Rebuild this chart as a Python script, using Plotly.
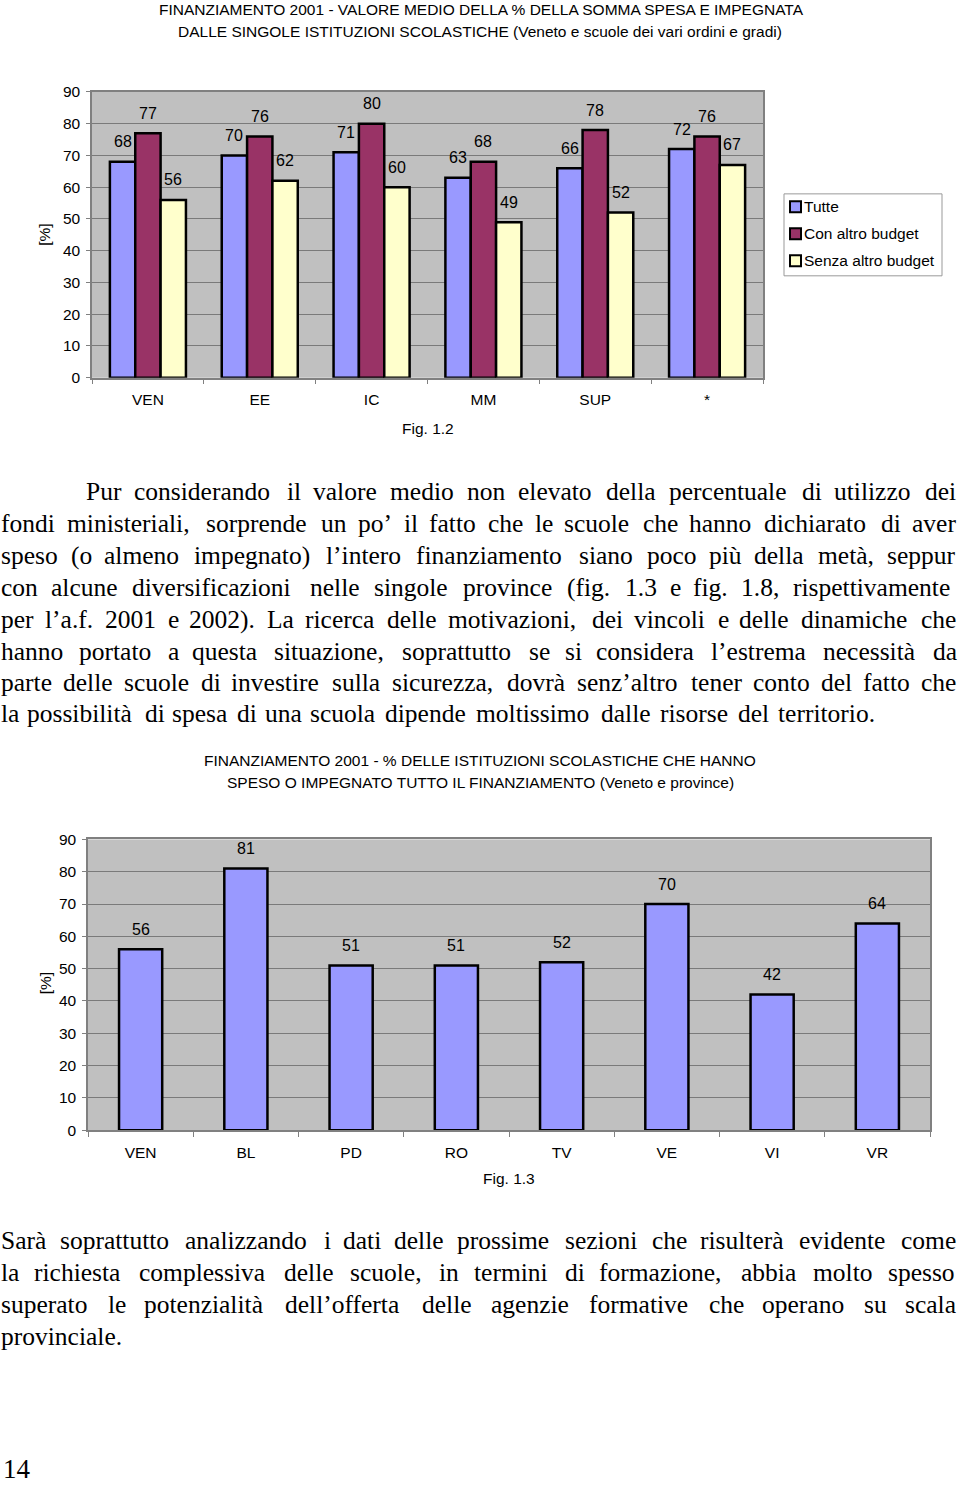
import plotly.graph_objects as go

W, H = 960, 1485

# ---------------- data ----------------
cats1 = ["VEN", "EE", "IC", "MM", "SUP", "*"]
tutte = [68, 70, 71, 63, 66, 72]
con_altro = [77, 76, 80, 68, 78, 76]
senza_altro = [56, 62, 60, 49, 52, 67]
series_names = ["Tutte", "Con altro budget", "Senza altro budget"]
series_colors = ["#9999ff", "#993366", "#ffffcc"]

cats2 = ["VEN", "BL", "PD", "RO", "TV", "VE", "VI", "VR"]
vals2 = [56, 81, 51, 51, 52, 70, 42, 64]

title1 = ["FINANZIAMENTO 2001 - VALORE MEDIO DELLA % DELLA SOMMA SPESA E IMPEGNATA",
          "DALLE SINGOLE ISTITUZIONI SCOLASTICHE (Veneto e scuole dei vari ordini e gradi)"]
title2 = ["FINANZIAMENTO 2001 - % DELLE ISTITUZIONI SCOLASTICHE CHE HANNO",
          "SPESO O IMPEGNATO TUTTO IL FINANZIAMENTO (Veneto e province)"]

para1 = [
    "Pur considerando il valore medio non elevato della percentuale di utilizzo dei",
    "fondi ministeriali, sorprende un po’ il fatto che le scuole che hanno dichiarato di aver",
    "speso (o almeno impegnato) l’intero finanziamento siano poco più della metà, seppur",
    "con alcune diversificazioni nelle singole province (fig. 1.3 e fig. 1.8, rispettivamente",
    "per l’a.f. 2001 e 2002).  La ricerca delle motivazioni, dei vincoli e delle dinamiche che",
    "hanno portato a questa situazione, soprattutto se si considera l’estrema necessità da",
    "parte delle scuole di investire sulla sicurezza, dovrà senz’altro tener conto del fatto che",
    "la possibilità di spesa di una scuola dipende moltissimo dalle risorse del territorio.",
]
para2 = [
    "Sarà soprattutto analizzando i dati delle prossime sezioni che risulterà evidente come",
    "la richiesta complessiva delle scuole, in termini di formazione, abbia molto spesso",
    "superato le potenzialità dell’offerta delle agenzie formative che operano su scala",
    "provinciale.",
]

SANS = "Liberation Sans, Arial, sans-serif"
SERIF = "Liberation Serif, Times New Roman, serif"
SF = 15.5  # sans font size

# rendered page maps paper height onto 1469 px starting 8 px down
def py(px):
    return 1 - (px - 8) / 1469

def pxx(px):
    return px / W

fig = go.Figure()

# ---------------- chart 1 ----------------
for name, vals, col in zip(series_names, [tutte, con_altro, senza_altro], series_colors):
    fig.add_trace(go.Bar(
        x=cats1, y=vals, name=name, xaxis="x", yaxis="y", showlegend=False,
        marker=dict(color=col, line=dict(color="black", width=2.5)),
    ))

# ---------------- chart 2 ----------------
fig.add_trace(go.Bar(
    x=cats2, y=vals2, xaxis="x2", yaxis="y2", width=0.41, showlegend=False,
    marker=dict(color="#9999ff", line=dict(color="black", width=2.5)),
))

ax_common = dict(
    type="category", ticks="outside", tickson="boundaries", ticklen=5,
    tickcolor="#808080", showline=True, linecolor="#808080", linewidth=1.5,
    mirror=True, showgrid=False, tickfont=dict(family=SANS, size=SF, color="black"),
    ticklabelstandoff=7, fixedrange=True,
)
ay_common = dict(
    range=[0, 90], dtick=10, ticks="outside", ticklen=4, tickcolor="#808080",
    showline=True, linecolor="#808080", linewidth=1.5, mirror=True,
    showgrid=True, gridcolor="#7a7a7a", gridwidth=1, zeroline=False,
    tickfont=dict(family=SANS, size=SF, color="black"), ticklabelstandoff=3,
    fixedrange=True,
)

x1a, x1b, y1a, y1b = 92, 763, 91, 377
x2a, x2b, y2a, y2b = 88, 930, 839, 1130

fig.update_layout(
    width=W, height=H, margin=dict(l=0, r=0, t=0, b=0),
    paper_bgcolor="white", plot_bgcolor="#c0c0c0",
    barmode="group", bargap=0.32, bargroupgap=0,
    xaxis=dict(domain=[pxx(x1a), pxx(x1b)], anchor="y", **ax_common),
    yaxis=dict(domain=[py(y1b), py(y1a)], anchor="x", **ay_common),
    xaxis2=dict(domain=[pxx(x2a), pxx(x2b)], anchor="y2", **ax_common),
    yaxis2=dict(domain=[py(y2b), py(y2a)], anchor="x2", **ay_common),
    showlegend=False,
)

ann = []
shapes = []

# value labels chart 1
cat_px1 = (x1b - x1a) / len(cats1)
bar_px1 = cat_px1 * (1 - 0.32) / 3
for k, vals in enumerate([tutte, con_altro, senza_altro]):
    for c, v in zip(cats1, vals):
        ann.append(dict(x=c, y=v, xref="x", yref="y", text=str(v), showarrow=False,
                        xshift=(k - 1) * bar_px1, yshift=20, yanchor="middle",
                        font=dict(family=SANS, size=16, color="black")))
# value labels chart 2
for c, v in zip(cats2, vals2):
    ann.append(dict(x=c, y=v, xref="x2", yref="y2", text=str(v), showarrow=False,
                    yshift=20, yanchor="middle",
                    font=dict(family=SANS, size=16, color="black")))

def ptext(text, xpx, ypx, size=SF, family=SANS, anchor="center", angle=0):
    ann.append(dict(x=pxx(xpx), y=py(ypx), xref="paper", yref="paper", text=text,
                    showarrow=False, xanchor=anchor, yanchor="middle", textangle=angle,
                    font=dict(family=family, size=size, color="black")))

# legend (chart 1)
shapes.append(dict(type="rect", xref="paper", yref="paper",
                   x0=pxx(784), x1=pxx(942), y0=py(275), y1=py(193),
                   line=dict(color="#999999", width=1), fillcolor="white", layer="above"))
for i, (name, col) in enumerate(zip(series_names, series_colors)):
    yc = 206 + 27 * i
    shapes.append(dict(type="rect", xref="paper", yref="paper",
                       x0=pxx(790), x1=pxx(801), y0=py(yc + 5.5), y1=py(yc - 5.5),
                       line=dict(color="black", width=2), fillcolor=col, layer="above"))
    ptext(name, 802, yc, anchor="left")

# titles
ptext(title1[0], 481, 9)
ptext(title1[1], 480, 31)
ptext(title2[0], 480, 760)
ptext(title2[1], 480, 782)
ptext("[%]", 45, 234, angle=-90)
ptext("[%]", 45, 983, angle=-90)
ptext("Fig. 1.2", 428, 428)
ptext("Fig. 1.3", 509, 1178)

# justified paragraph text (Times metrics)
TW = {" ": 250, "(": 333, ")": 333, ",": 250, "-": 333, ".": 250, ":": 278, ";": 278,
      "’": 333, "'": 180, "à": 444, "è": 444, "é": 444, "ì": 278, "ò": 500, "ù": 500,
      "A": 722, "B": 667, "C": 667, "D": 722, "E": 611, "F": 556, "G": 722, "H": 722,
      "I": 333, "J": 389, "K": 722, "L": 611, "M": 889, "N": 722, "O": 722, "P": 556,
      "Q": 722, "R": 667, "S": 556, "T": 611, "U": 722, "V": 722, "W": 944, "X": 722,
      "Y": 722, "Z": 611,
      "a": 444, "b": 500, "c": 444, "d": 500, "e": 444, "f": 333, "g": 500, "h": 500,
      "i": 278, "j": 278, "k": 500, "l": 278, "m": 778, "n": 500, "o": 500, "p": 500,
      "q": 500, "r": 333, "s": 389, "t": 278, "u": 500, "v": 500, "w": 722, "x": 500,
      "y": 500, "z": 444}
FS = 25.5
TRACK = 0.5

def wwidth(w):
    return sum(TW.get(ch, 500) for ch in w) * FS / 1000 + TRACK * len(w)

def place_line(line, x0, x1, ypx, justify=True):
    words = line.split()
    widths = [wwidth(w) for w in words]
    if justify and len(words) > 1:
        gap = (x1 - x0 - sum(widths)) / (len(words) - 1)
    else:
        gap = 250 * FS / 1000 + TRACK
    x = x0
    for w, wd in zip(words, widths):
        ann.append(dict(x=pxx(x - 2), y=py(ypx), xref="paper", yref="paper", text=w,
                        showarrow=False, xanchor="left", yanchor="middle",
                        font=dict(family=SERIF, size=FS, color="black")))
        x += wd + gap

ys1 = [491, 523, 555, 587, 619, 651, 682, 713]
for i, (line, yy) in enumerate(zip(para1, ys1)):
    x0 = 86 if i == 0 else 1
    place_line(line, x0, 958, yy, justify=(i < len(para1) - 1))

ys2 = [1240, 1272, 1304, 1336]
for i, (line, yy) in enumerate(zip(para2, ys2)):
    place_line(line, 1, 958, yy, justify=(i < len(para2) - 1))

ptext("14", 1, 1469, size=27, family=SERIF, anchor="left")

fig.update_layout(annotations=ann, shapes=shapes)
fig.write_html("out.html")
